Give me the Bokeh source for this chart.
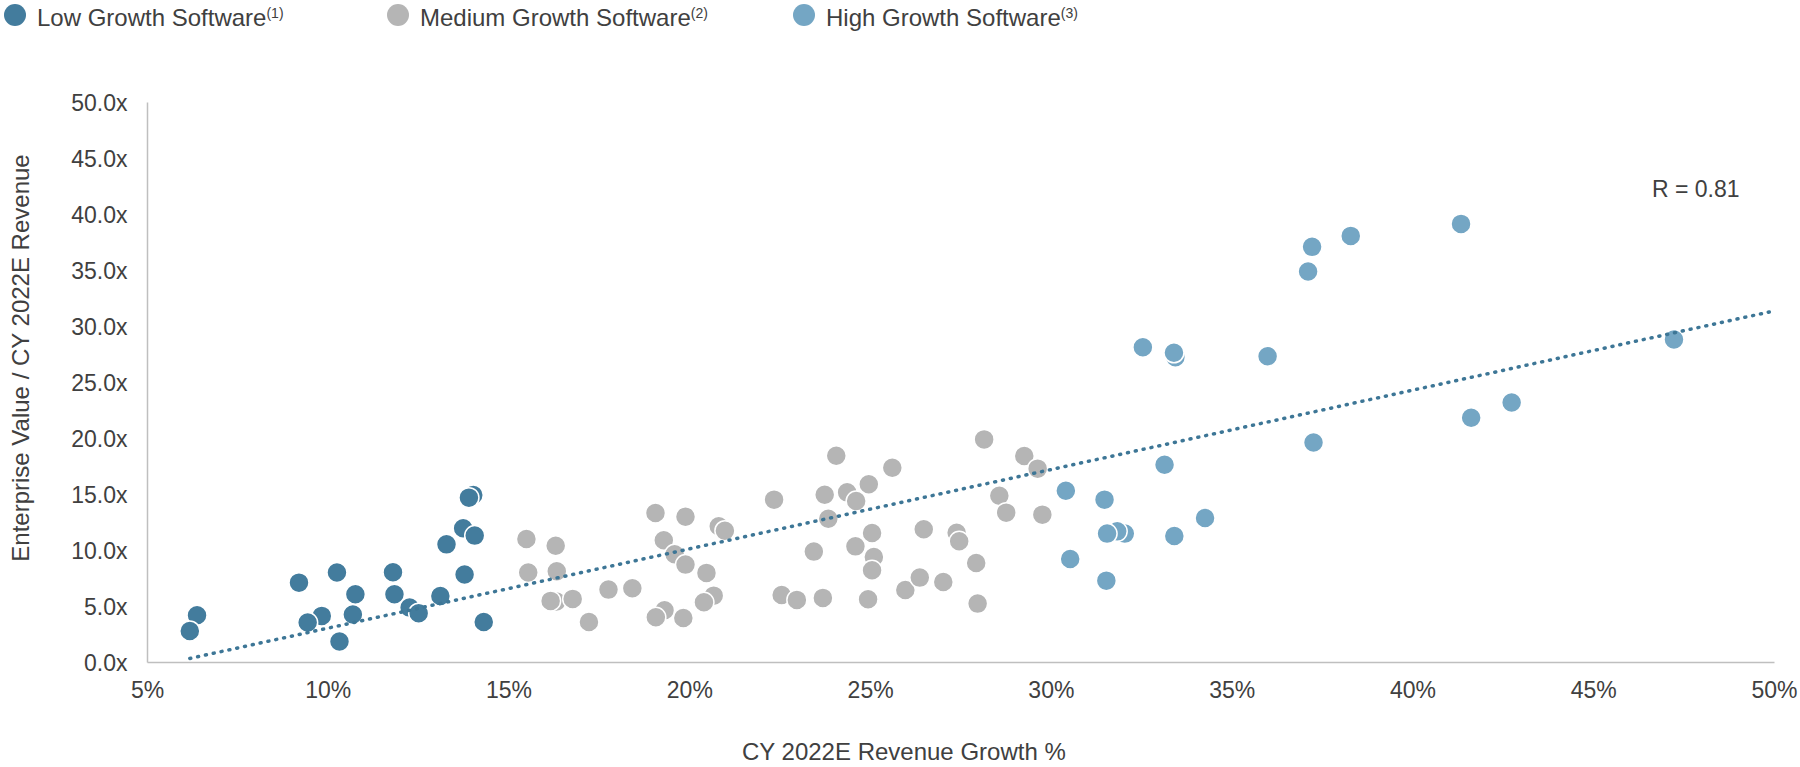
import numpy as np
from bokeh.plotting import figure
from bokeh.models import Range1d, FixedTicker, Label, Div
from bokeh.layouts import column, row
from bokeh.embed import file_html
from bokeh.resources import INLINE

# ---------------- data ----------------
low_growth = [6.37, 6.17, 9.19, 10.24, 9.82, 9.43, 10.75, 10.68, 10.31, 11.79, 11.83,
              12.25, 12.50, 13.10, 13.27, 13.73, 14.05, 14.01, 13.89, 13.77, 14.30]
low_multiple = [4.22, 2.82, 7.13, 8.03, 4.16, 3.57, 6.09, 4.28, 1.87, 8.06, 6.09,
                4.90, 4.40, 5.94, 10.55, 11.98, 11.33, 14.95, 14.72, 7.85, 3.62]

medium_growth = [15.48, 16.29, 15.53, 16.32, 16.31, 16.15, 16.76, 17.21, 17.75, 18.41,
                 19.05, 19.88, 19.28, 19.58, 19.88, 20.80, 20.97, 20.46, 20.66, 20.39,
                 19.30, 19.06, 19.82, 22.33, 24.05, 23.73, 24.35, 24.60, 24.95, 25.60,
                 23.83, 23.43, 24.58, 25.04, 25.09, 25.04, 22.54, 22.96, 23.68, 24.93,
                 25.96, 26.36, 27.01, 26.47, 27.38, 27.45, 27.92, 27.96, 28.14, 29.25,
                 29.62, 28.56, 28.75, 29.75]
medium_multiple = [11.03, 10.43, 8.03, 8.14, 5.44, 5.50, 5.68, 3.62, 6.51, 6.63,
                   13.35, 13.02, 10.91, 9.66, 8.74, 12.16, 11.77, 8.00, 5.97, 5.38,
                   4.67, 4.04, 3.98, 14.54, 18.46, 14.98, 15.19, 14.42, 15.91, 17.39,
                   12.84, 9.90, 10.37, 11.56, 9.42, 8.23, 6.03, 5.59, 5.77, 5.65,
                   6.48, 7.58, 7.19, 11.89, 11.59, 10.82, 8.89, 5.26, 19.92, 18.43,
                   17.31, 14.89, 13.38, 13.20]

high_growth = [41.33, 38.28, 37.21, 37.10, 32.53, 33.43, 33.39, 35.98, 47.22, 42.73,
               41.61, 37.25, 33.13, 30.40, 31.47, 34.25, 32.03, 31.82, 31.54, 33.40,
               30.52, 31.52]
high_multiple = [39.16, 38.09, 37.11, 34.91, 28.15, 27.26, 27.65, 27.35, 28.84, 23.22,
                 21.85, 19.65, 17.66, 15.34, 14.54, 12.90, 11.51, 11.71, 11.51, 11.29,
                 9.24, 7.31]

trend_growth = [6.17, 50.0]
trend_multiple = [0.36, 31.4]
r_text = "R = 0.81"

x_ticks = [5, 10, 15, 20, 25, 30, 35, 40, 45, 50]
x_tick_labels = ["5%", "10%", "15%", "20%", "25%", "30%", "35%", "40%", "45%", "50%"]
y_ticks = [0, 5, 10, 15, 20, 25, 30, 35, 40, 45, 50]
y_tick_labels = ["0.0x", "5.0x", "10.0x", "15.0x", "20.0x", "25.0x", "30.0x",
                 "35.0x", "40.0x", "45.0x", "50.0x"]

series_names = ["Low Growth Software", "Medium Growth Software", "High Growth Software"]
series_notes = ["(1)", "(2)", "(3)"]
series_colors = ["#437C9D", "#B5B5B5", "#74A6C4"]
trend_color = "#3D7696"

x_title = "CY 2022E Revenue Growth %"
y_title = "Enterprise Value / CY 2022E Revenue"

FONT = "Liberation Sans"
TXT = "#404040"

W = 1800
LEG_H = 48
YT_W = 40
ROW_H = 660
XT_H = 57

# ---------------- legend strip (HTML) ----------------
leg_circle_left = [4, 387, 793]
leg_text_left = [37, 420, 826]
parts = []
for name, note, col, cl, tl in zip(series_names, series_notes, series_colors,
                                   leg_circle_left, leg_text_left):
    parts.append(
        f'<span style="position:absolute;left:{cl}px;top:4px;width:22px;height:22px;'
        f'border-radius:50%;background:{col};"></span>'
        f'<span style="position:absolute;left:{tl}px;top:1px;white-space:nowrap;'
        f'font-size:24px;line-height:24px;">{name}'
        f'<span style="font-size:14px;vertical-align:8px;">{note}</span></span>'
    )
box = "position:relative;width:{w}px;height:{h}px;font-family:'" + FONT + "';color:" + TXT + ";"
leg = Div(text=f'<div style="{box.format(w=W, h=LEG_H)}">' + "".join(parts) + "</div>",
          width=W, height=LEG_H, margin=0)

# ---------------- axis titles (HTML) ----------------
ydiv = Div(text=(f'<div style="{box.format(w=YT_W, h=ROW_H)}">'
                 f'<span style="position:absolute;left:20px;top:310px;white-space:nowrap;'
                 f'font-size:24px;line-height:27px;'
                 f'transform:translate(-50%,-50%) rotate(-90deg);">{y_title}</span></div>'),
           width=YT_W, height=ROW_H, margin=0)
xdiv = Div(text=(f'<div style="{box.format(w=W, h=XT_H)}">'
                 f'<span style="position:absolute;left:742px;top:30px;white-space:nowrap;'
                 f'font-size:24px;line-height:27px;">{x_title}</span></div>'),
           width=W, height=XT_H, margin=0)

# ---------------- main chart ----------------
p = figure(width=W - YT_W, height=ROW_H, x_range=Range1d(5, 50), y_range=Range1d(0, 50),
           output_backend="svg", toolbar_location=None, margin=0,
           min_border_left=107, min_border_right=26, min_border_top=54, min_border_bottom=46)
p.outline_line_color = None
p.grid.visible = False

for ax in (p.xaxis[0], p.yaxis[0]):
    ax.axis_line_color = "#BFBFBF"
    ax.axis_line_width = 1.5
    ax.major_tick_line_color = None
    ax.minor_tick_line_color = None
    ax.major_tick_in = 0
    ax.major_tick_out = 0
    ax.major_label_text_font = FONT
    ax.major_label_text_font_size = "23px"
    ax.major_label_text_color = TXT

p.xaxis.ticker = FixedTicker(ticks=x_ticks)
p.xaxis.major_label_overrides = {t: l for t, l in zip(x_ticks, x_tick_labels)}
p.xaxis.major_label_standoff = 14
p.yaxis.ticker = FixedTicker(ticks=y_ticks)
p.yaxis.major_label_overrides = {t: l for t, l in zip(y_ticks, y_tick_labels)}
p.yaxis.major_label_standoff = 20

for gx, gy, c in ((medium_growth, medium_multiple, series_colors[1]),
                  (low_growth, low_multiple, series_colors[0]),
                  (high_growth, high_multiple, series_colors[2])):
    p.scatter(x=gx, y=gy, size=20, fill_color=c, line_color="white", line_width=1.5)

p.line(x=trend_growth, y=trend_multiple, line_color=trend_color, line_width=3.5,
       line_dash="1 7", line_cap="round")

p.add_layout(Label(x=46.61, y=42.3, text=r_text, text_font=FONT, text_font_size="23px",
                   text_color=TXT, text_baseline="alphabetic", text_align="left"))

layout = column(leg, row(ydiv, p, spacing=0), xdiv, spacing=0)
open("out.html", "w").write(file_html(layout, INLINE))
